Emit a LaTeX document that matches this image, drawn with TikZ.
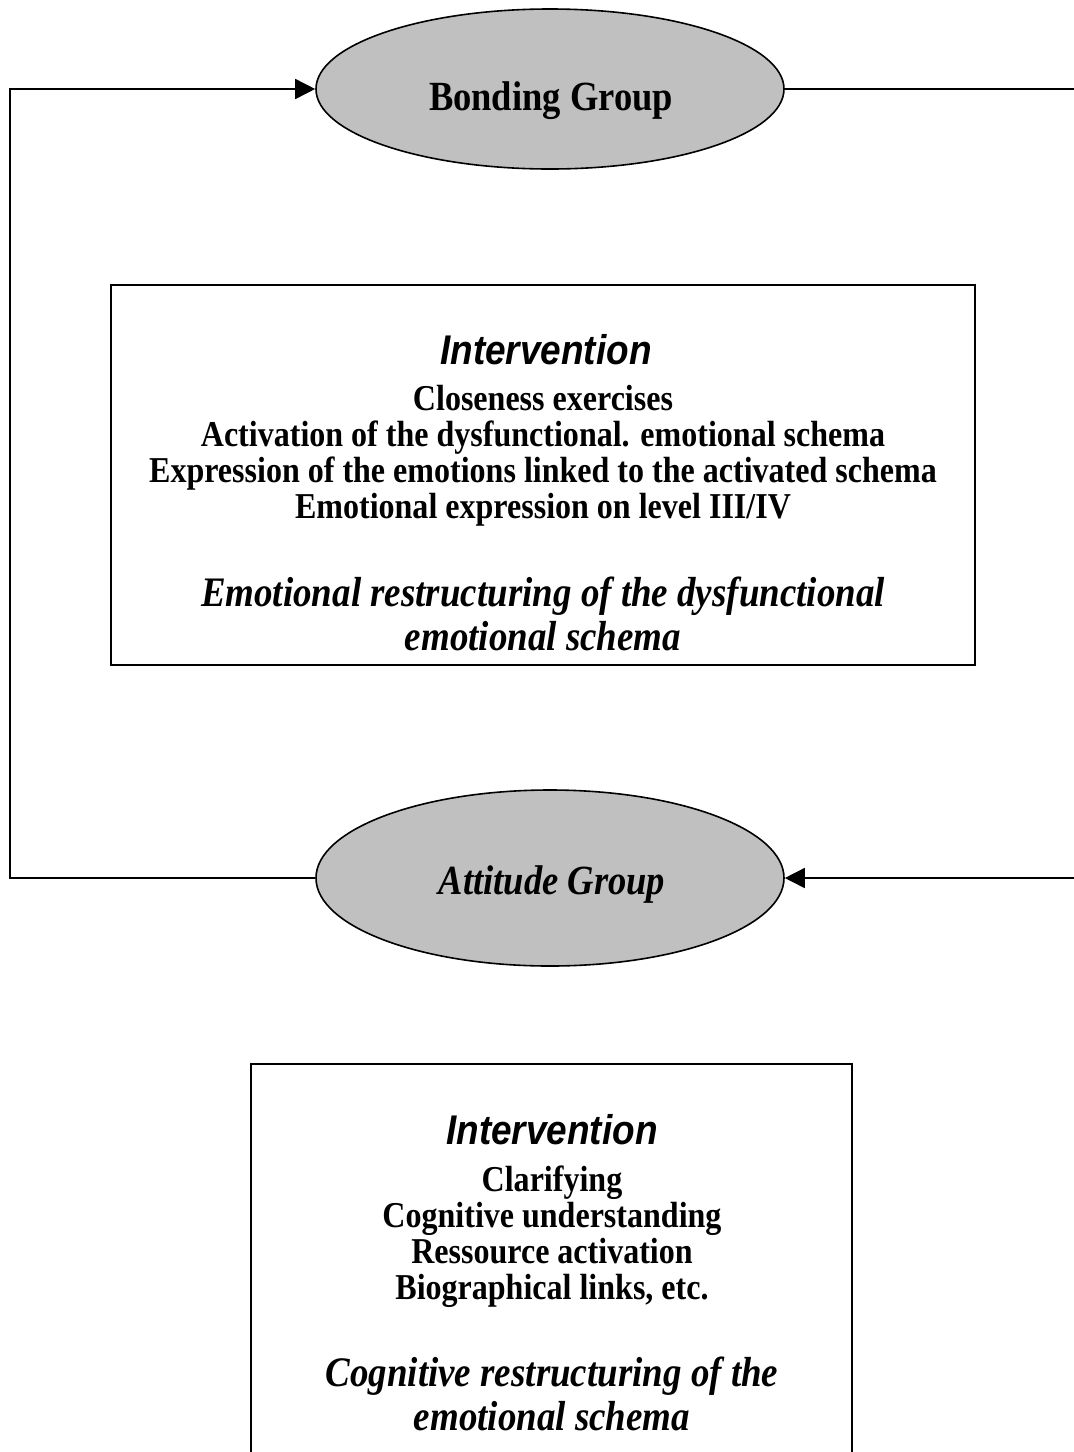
\documentclass[tikz,border=0pt]{standalone}
\usepackage{fontspec}
\setmainfont{Liberation Serif}
\newfontfamily\arialf[FakeStretch=0.89]{Liberation Sans}
\newfontfamily\tallserif[FakeStretch=0.88]{Liberation Serif}
\usetikzlibrary{arrows.meta,shapes.geometric}
\definecolor{ellgray}{RGB}{192,192,192}
\tikzset{
  conn/.style={line width=1.6pt, draw=black},
  tip/.style={-{Triangle[length=20pt,width=20pt]}},
  grp/.style={ellipse, draw=black, line width=1.6pt, fill=ellgray, inner sep=0pt, minimum width=468pt},
  panel/.style={rectangle, draw=black, line width=1.6pt, inner sep=0pt},
  title/.style={anchor=base, inner sep=0pt, font=\arialf\bfseries\itshape\fontsize{41.5}{46}\selectfont},
  bodyline/.style={anchor=base, inner sep=0pt, font=\tallserif\bfseries\fontsize{36.4}{40}\selectfont},
  result/.style={anchor=base, inner sep=0pt, font=\tallserif\bfseries\itshape\fontsize{42}{48}\selectfont},
  grplabel/.style={anchor=base, inner sep=0pt, font=\tallserif\bfseries\fontsize{41.5}{46}\selectfont}
}
\begin{document}
\begin{tikzpicture}[x=1pt,y=-1pt]
\useasboundingbox (0,0) rectangle (1074,1452);
\clip (0,0) rectangle (1074,1452);
% group ellipses
\node[grp, minimum height=160pt] (bond) at (550,89) {};
\node[grp, minimum height=176pt] (att) at (550,878) {};
\node[grplabel] (bondtxt) at (551,110) {Bonding Group};
\node[grplabel, font=\tallserif\bfseries\itshape\fontsize{41.5}{46}\selectfont] (atttxt) at (552,894) {Attitude Group};
% connectors
\coordinate (lcorner) at (10,878);
\coordinate (rtop) at (1074,89);
\coordinate (rbot) at (1074,878);
\draw[conn, tip] (att.west) -- (lcorner) |- (bond.west);
\draw[conn] (bond.east) -- (rtop);
\draw[conn, tip] (rbot) -- (att.east);
% upper panel
\node[panel, minimum width=864pt, minimum height=380pt] (box1) at (543,475) {};
\node[title] (t1) at (546,364) {Intervention};
\node[bodyline] (b1a) at (543,410) {Closeness exercises};
\node[bodyline] (b1b) at (543,446) {Activation of the dysfunctional. emotional schema};
\node[bodyline] (b1c) at (543,482) {Expression of the emotions linked to the activated schema};
\node[bodyline] (b1d) at (543,518) {Emotional expression on level III/IV};
\node[result] (r1a) at (543,606) {Emotional restructuring of the dysfunctional};
\node[result] (r1b) at (543,650) {emotional schema};
% lower panel (continues below the visible area)
\node[panel, minimum width=601pt, minimum height=420pt] (box2) at (551.5,1274) {};
\node[title] (t2) at (552,1144) {Intervention};
\node[bodyline] (b2a) at (552,1191) {Clarifying};
\node[bodyline] (b2b) at (552,1227) {Cognitive understanding};
\node[bodyline] (b2c) at (552,1263) {Ressource activation};
\node[bodyline] (b2d) at (552,1299) {Biographical links, etc.};
\node[result] (r2a) at (552,1386) {Cognitive restructuring of the};
\node[result] (r2b) at (552,1430) {emotional schema};
\end{tikzpicture}
\end{document}
